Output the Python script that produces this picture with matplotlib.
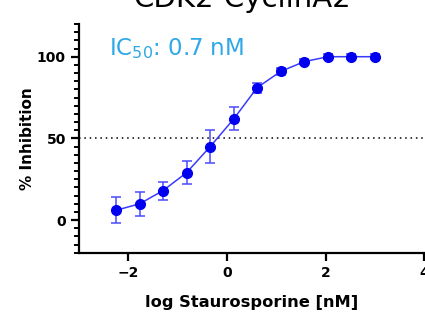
import matplotlib
matplotlib.use("Agg")
import matplotlib.pyplot as plt
from matplotlib.ticker import MultipleLocator

# ---- data
log_conc = [-2.25, -1.77, -1.30, -0.82, -0.34, 0.14, 0.61, 1.09, 1.57, 2.05, 2.52, 3.00]
inhibition = [6, 10, 18, 29, 45, 62, 81, 91, 97, 100, 100, 100]
err = [8, 7.5, 5.5, 7, 10, 7, 3, 2, 1.5, 1.5, 1.5, 1.5]

title = "CDK2-CyclinA2"
ic50_label = "IC$_{50}$: 0.7 nM"

plt.rcParams["font.family"] = ["DejaVu Sans"]
plt.rcParams["mathtext.fontset"] = "dejavusans"

fig = plt.figure(figsize=(4.25, 3.16), dpi=100)
ax = fig.add_axes([0.186, 0.2, 0.812, 0.724])

line_col = "#3a3aff"
dot_col = "#0000ee"

ax.axhline(50, color="black", ls=(0, (1, 2.5)), lw=1.1, zorder=1)
ax.errorbar(log_conc, inhibition, yerr=err, fmt="none", ecolor="#4a4aff",
            elinewidth=1.1, capsize=3.5, capthick=1.1, zorder=2)
ax.plot(log_conc, inhibition, color=line_col, lw=1.1, zorder=3)
ax.plot(log_conc, inhibition, "o", color=dot_col, ms=7, zorder=4)

ax.set_xlim(-3, 4)
ax.set_ylim(-20, 120)
ax.set_xticks([-2, 0, 2, 4])
ax.set_yticks([0, 50, 100])
ax.yaxis.set_minor_locator(MultipleLocator(5))

for side in ("top", "right"):
    ax.spines[side].set_visible(False)
for side in ("left", "bottom"):
    ax.spines[side].set_linewidth(1.6)

ax.tick_params(axis="both", which="major", length=6, width=1.6, labelsize=10)
ax.tick_params(axis="y", which="minor", length=3.5, width=1.4)
for lab in ax.get_xticklabels() + ax.get_yticklabels():
    lab.set_fontweight("bold")

ax.set_xlabel("log Staurosporine [nM]", fontsize=11.7, fontweight="bold", labelpad=11)
ax.set_ylabel("% Inhibition", fontsize=11, fontweight="bold", labelpad=1)

ax.text(-2.4, 101, ic50_label, color="#2ea8e6", fontsize=16.5,
        ha="left", va="baseline")

fig.text(0.57, 0.978, title, ha="center", va="baseline", fontsize=21)

fig.savefig("out.png", dpi=100)
